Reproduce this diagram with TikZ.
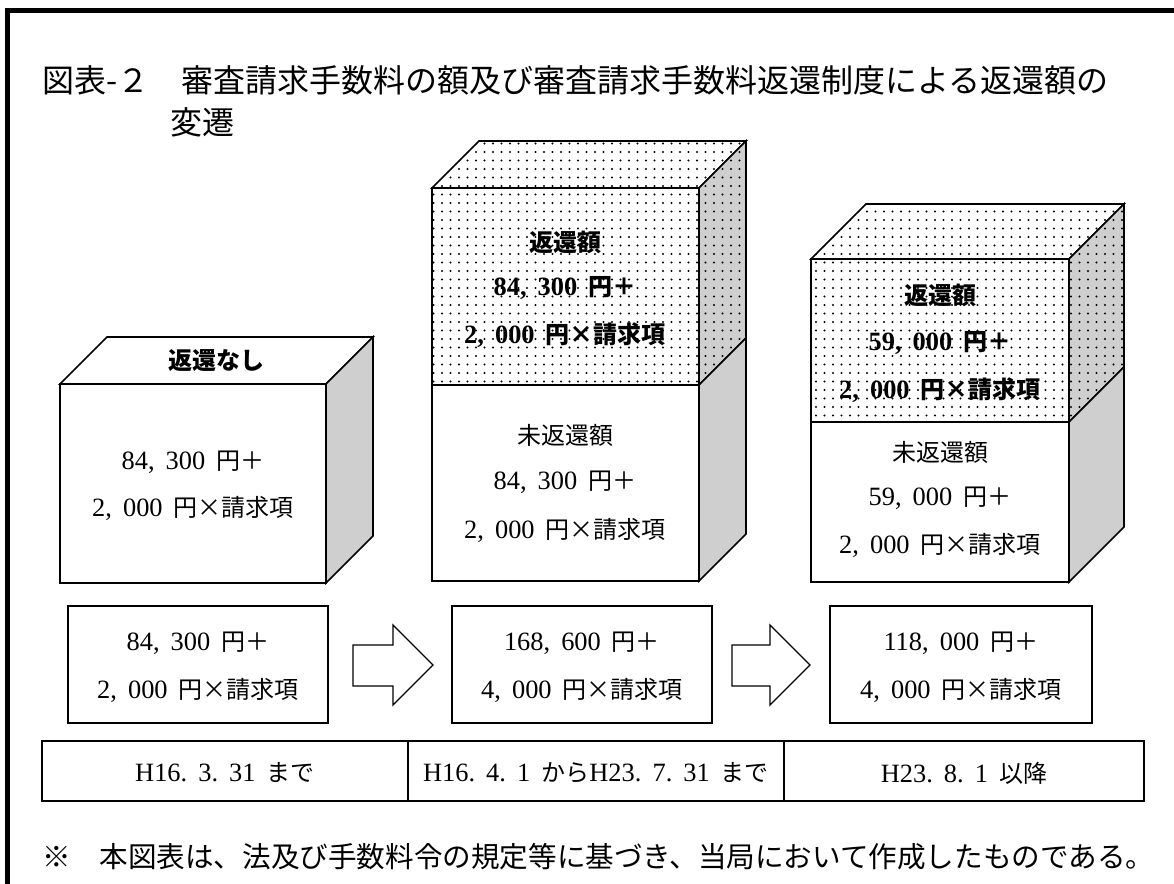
\documentclass[tikz,border=0pt]{standalone}
\usepackage{fontspec}
\setmainfont{Liberation Serif}[Scale=1.1]
\newfontfamily\jp{Noto Sans CJK JP}
\usetikzlibrary{patterns.meta}
\definecolor{sidegray}{gray}{0.81}
\newcommand\g{\hspace{0.42em}}
\begin{document}
\begin{tikzpicture}[x=1pt,y=-1pt,
  body/.style={font=\fontsize{24}{28}\selectfont, inner sep=0pt},
  boldtxt/.style={font=\fontsize{24}{28}\selectfont\bfseries, inner sep=0pt},
  edge/.style={line width=1.6pt, line join=miter},
  dotfill/.style={pattern={Dots[distance=8.5pt, radius=1.05pt]}},
  boxnode/.style={draw, line width=1.7pt, minimum width=260pt, minimum height=117pt, inner sep=0pt},
  blockarrow/.style={draw, line width=1.3pt, fill=white, line join=miter},
]
\useasboundingbox (0,0) rectangle (1174,883);
% outer frame
\draw[line width=5pt, line join=miter] (7.5,900) -- (7.5,10.8) -- (1190,10.8);

% title
\node[anchor=west, inner sep=0pt, font=\fontsize{32}{36}\selectfont] (title1) at (42,80)
  {\jp 図表-２　審査請求手数料の額及び審査請求手数料返還制度による返還額の};
\node[anchor=west, inner sep=0pt, font=\fontsize{32}{36}\selectfont] (title2) at (170,122)
  {\jp 変遷};

% cube 1
\filldraw[edge, fill=white] (60,384) rectangle (326,583);
\filldraw[edge, fill=white] (60,384) -- (107,337) -- (373,337) -- (326,384) -- cycle;
\filldraw[edge, fill=sidegray] (326,384) -- (373,337) -- (373,536) -- (326,583) -- cycle;
\node[boldtxt] (c1top) at (216,361) {\jp 返還なし};
\node[body] (c1a) at (193,462) {84,\g 300\g{\jp 円＋}};
\node[body] (c1b) at (193,508) {2,\g 000\g{\jp 円×請求項}};

% cube 2
\path[draw, edge, preaction={fill=white}, dotfill] (432,188) -- (479,141) -- (746,141) -- (699,188) -- cycle;
\path[draw, edge, preaction={fill=white}, dotfill] (432,188) rectangle (699,385);
\filldraw[edge, fill=white] (432,385) rectangle (699,581);
\path[draw, edge, preaction={fill=sidegray}, dotfill] (699,188) -- (746,141) -- (746,338) -- (699,385) -- cycle;
\filldraw[edge, fill=sidegray] (699,385) -- (746,338) -- (746,534) -- (699,581) -- cycle;
\node[boldtxt] (c2u1) at (565,242) {\jp 返還額};
\node[boldtxt] (c2u2) at (565,288) {84,\g 300\g{\jp 円＋}};
\node[boldtxt] (c2u3) at (565,335) {2,\g 000\g{\jp 円×請求項}};
\node[body] (c2l1) at (565,435) {\jp 未返還額};
\node[body] (c2l2) at (565,482) {84,\g 300\g{\jp 円＋}};
\node[body] (c2l3) at (565,530) {2,\g 000\g{\jp 円×請求項}};

% cube 3
\path[draw, edge, preaction={fill=white}, dotfill] (811,259) -- (866,204) -- (1124,204) -- (1069,259) -- cycle;
\path[draw, edge, preaction={fill=white}, dotfill] (811,259) rectangle (1069,422);
\filldraw[edge, fill=white] (811,422) rectangle (1069,582);
\path[draw, edge, preaction={fill=sidegray}, dotfill] (1069,259) -- (1124,204) -- (1124,367) -- (1069,422) -- cycle;
\filldraw[edge, fill=sidegray] (1069,422) -- (1124,367) -- (1124,527) -- (1069,582) -- cycle;
\node[boldtxt] (c3u1) at (940,295) {\jp 返還額};
\node[boldtxt] (c3u2) at (940,343) {59,\g 000\g{\jp 円＋}};
\node[boldtxt] (c3u3) at (940,390) {2,\g 000\g{\jp 円×請求項}};
\node[body] (c3l1) at (940,452) {\jp 未返還額};
\node[body] (c3l2) at (940,498) {59,\g 000\g{\jp 円＋}};
\node[body] (c3l3) at (940,545) {2,\g 000\g{\jp 円×請求項}};

% bottom boxes
\node[boxnode] (b1) at (198,664.5) {};
\node[boxnode] (b2) at (582,664.5) {};
\node[boxnode, minimum width=262pt] (b3) at (961,664.5) {};
\node[body] (b1a) at (b1.center |- 0,643) {84,\g 300\g{\jp 円＋}};
\node[body] (b1b) at (b1.center |- 0,690) {2,\g 000\g{\jp 円×請求項}};
\node[body] (b2a) at (b2.center |- 0,643) {168,\g 600\g{\jp 円＋}};
\node[body] (b2b) at (b2.center |- 0,690) {4,\g 000\g{\jp 円×請求項}};
\node[body] (b3a) at (b3.center |- 0,643) {118,\g 000\g{\jp 円＋}};
\node[body] (b3b) at (b3.center |- 0,690) {4,\g 000\g{\jp 円×請求項}};

% block arrows
\draw[blockarrow] (353,645) -- (393,645) -- (393,625) -- (433,665) -- (393,705) -- (393,686) -- (353,686) -- cycle;
\draw[blockarrow] (732,645) -- (770,645) -- (770,625) -- (810,665) -- (770,705) -- (770,686) -- (732,686) -- cycle;

% period table
\draw[line width=1.5pt] (42,741) rectangle (1144,801);
\draw[line width=1.5pt] (408,741) -- (408,801);
\draw[line width=1.5pt] (784,741) -- (784,801);
\node[body] (t1) at (225,773) {H16.\g 3.\g 31\g{\jp まで}};
\node[body] (t2) at (596,773) {H16.\g 4.\g 1\g{\jp から}H23.\g 7.\g 31\g{\jp まで}};
\node[body] (t3) at (964,773) {H23.\g 8.\g 1\g{\jp 以降}};

% footnote
\node[anchor=west, inner sep=0pt, font=\fontsize{28.6}{32}\selectfont] (note) at (42,857)
  {\jp ※　本図表は、法及び手数料令の規定等に基づき、当局において作成したものである。};
\end{tikzpicture}
\end{document}
